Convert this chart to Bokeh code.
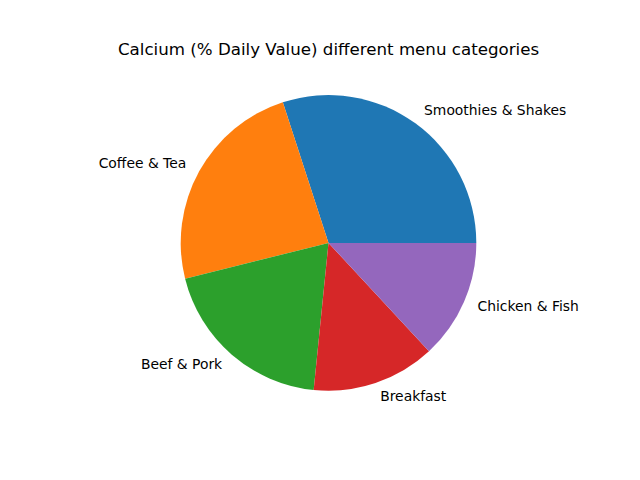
import numpy as np
from bokeh.plotting import figure
from bokeh.models import ColumnDataSource, Range1d
from bokeh.core.properties import value
from bokeh.embed import file_html
from bokeh.resources import INLINE

categories = ["Smoothies & Shakes", "Coffee & Tea", "Beef & Pork", "Breakfast", "Chicken & Fish"]
values = [30.0, 23.9, 19.5, 13.5, 13.1]
colors = ["#1f77b4", "#ff7f0e", "#2ca02c", "#d62728", "#9467bd"]
title = "Calcium (% Daily Value) different menu categories"

W, H = 640, 480
cx, cy = 328.0, H - 242.4
R = 147.8

vals = np.array(values, dtype=float)
frac = vals / vals.sum()
ends = np.cumsum(frac) * 2 * np.pi
starts = np.concatenate([[0.0], ends[:-1]])
mids = (starts + ends) / 2

lx = cx + 1.1 * R * np.cos(mids)
ly = cy + 1.1 * R * np.sin(mids)
align = ["left" if np.cos(m) > 0 else "right" for m in mids]

p = figure(width=W, height=H, output_backend="svg", toolbar_location=None,
           x_range=Range1d(0, W), y_range=Range1d(0, H), min_border=0,
           match_aspect=False)
p.axis.visible = False
p.grid.visible = False
p.outline_line_color = None
p.background_fill_color = "white"
p.border_fill_color = "white"

src = ColumnDataSource(dict(start=starts, end=ends, color=colors, cat=categories))
p.wedge(x=cx, y=cy, radius=R, start_angle="start", end_angle="end",
        direction="anticlock", fill_color="color", line_color=None, source=src)

lsrc = ColumnDataSource(dict(x=lx, y=ly, text=categories, align=align))
p.text(x="x", y="y", text="text", text_align="align", text_baseline="middle",
       y_offset=-1.5,
       text_font=value("DejaVu Sans"), text_font_size="13.89px", text_color="black",
       source=lsrc)

p.text(x=[cx], y=[H - 49.3], text=[title], text_align="center", text_baseline="alphabetic",
       text_font=value("DejaVu Sans"), text_font_size="16.67px", text_color="black")

open("out.html", "w").write(file_html(p, INLINE))
